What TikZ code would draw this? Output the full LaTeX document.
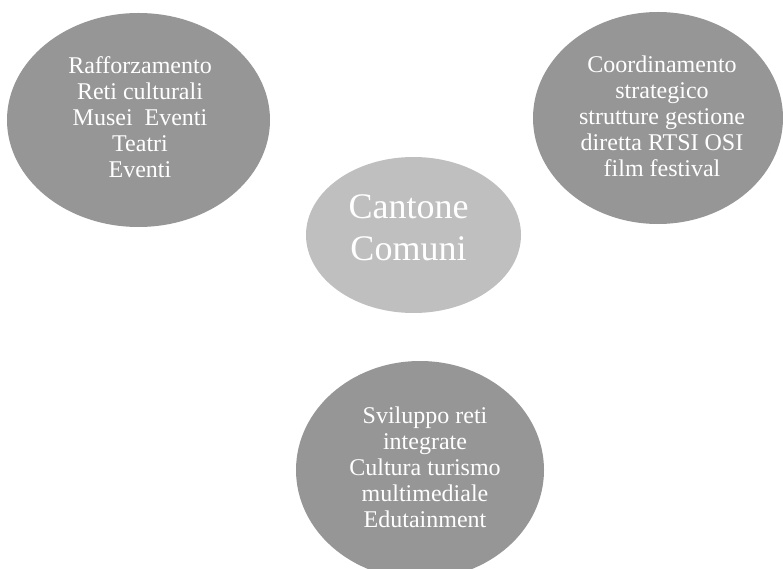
\documentclass[tikz,border=0pt]{standalone}
\usepackage{fontspec}
\setmainfont{Liberation Serif}
\usetikzlibrary{shapes.geometric}
\definecolor{bubbledark}{RGB}{150,150,150}
\definecolor{bubblelight}{RGB}{191,191,191}
\tikzset{
  bubble/.style={ellipse, fill=bubbledark, draw=none, inner sep=0pt, outer sep=0pt},
  core/.style={ellipse, fill=bubblelight, draw=none, inner sep=0pt, outer sep=0pt},
  bubbletext/.style={text=white, align=center, inner sep=0pt,
    font=\fontsize{24}{26}\selectfont},
  coretext/.style={text=white, align=center, inner sep=0pt,
    font=\fontsize{36}{42}\selectfont},
}
\begin{document}
\begin{tikzpicture}[x=1pt, y=-1pt]
  \useasboundingbox (0,0) rectangle (783,569);
  \begin{scope}
    \clip (0,0) rectangle (783,569);
    % outer bubbles
    \node[bubble, minimum width=263pt, minimum height=214pt] (tl) at (138.5,120) {};
    \node[bubble, minimum width=250pt, minimum height=212pt] (tr) at (658,118) {};
    \node[bubble, minimum width=248pt, minimum height=218pt] (bt) at (420,470) {};
    % central bubble
    \node[core, minimum width=215pt, minimum height=156pt] (cc) at (413.5,235) {};
  \end{scope}
  % texts
  \node[bubbletext] (tltext) at ([shift={(1.5,-3)}]tl.center)
    {Rafforzamento\\Reti culturali\\Musei\ \ Eventi\\Teatri\\Eventi};
  \node[bubbletext] (trtext) at ([shift={(4,-2)}]tr.center)
    {Coordinamento\\strategico\\strutture gestione\\diretta RTSI OSI\\film festival};
  \node[bubbletext] (bttext) at ([shift={(5,-3)}]bt.center)
    {Sviluppo reti\\integrate\\Cultura turismo\\multimediale\\Edutainment};
  \node[coretext] (cctext) at ([shift={(-5,-7)}]cc.center)
    {Cantone\\Comuni};
\end{tikzpicture}
\end{document}
